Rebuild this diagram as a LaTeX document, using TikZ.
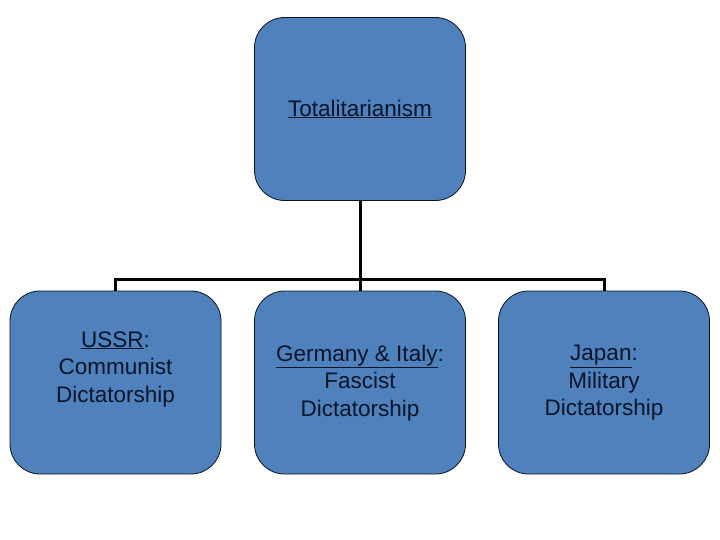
\documentclass[tikz,border=0pt]{standalone}
\usepackage{fontspec}
\setmainfont{Liberation Sans}
\definecolor{boxblue}{HTML}{4F81BD}
\definecolor{txt}{HTML}{0A1428}
\begin{document}
\begin{tikzpicture}[x=1pt,y=-1pt,
  bbox/.style={draw=black!85!boxblue,line width=0.8pt,fill=boxblue,rounded corners=30pt,
    minimum width=211pt,minimum height=183pt,inner sep=0pt},
  lbl/.style={text=txt,align=center,font=\fontsize{22.5}{27.5}\selectfont},
  conn/.style={line width=3pt,black}]
\useasboundingbox (0,0) rectangle (720,540);
\node[bbox] (top) at (360,109) {};
\node[bbox] (b1) at (115.5,382.5) {};
\node[bbox] (b2) at (360,382.5) {};
\node[bbox] (b3) at (604,382.5) {};
\node[lbl] (ttop) at (360,109) {\underline{Totalitarianism}};
\node[lbl] (t1) at (115.5,369) {\underline{USSR}:\\Communist\\Dictatorship};
\node[lbl] (t2) at (360,383) {\underline{Germany \& Italy}:\\Fascist\\Dictatorship};
\node[lbl] (t3) at (604,383) {\underline{Japan}:\\Military\\Dictatorship};
\coordinate (j) at (360,279);
\draw[conn] (top.south) -- (j);
\draw[conn] (b1.north) -- (b1.north |- j) -- (b3.north |- j) -- (b3.north);
\draw[conn] (j) -- (b2.north);
\end{tikzpicture}
\end{document}
